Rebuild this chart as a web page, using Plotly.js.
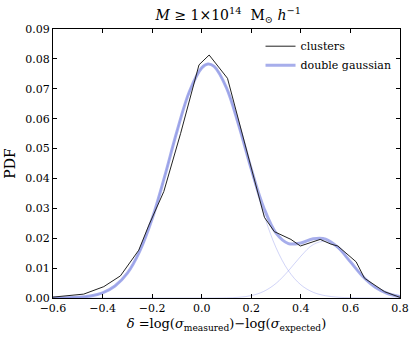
<!DOCTYPE html>
<html>
<head>
<meta charset="utf-8">
<script src="https://cdn.plot.ly/plotly-3.0.1.min.js"></script>
<style>
  html, body { margin: 0; padding: 0; background: #fff; }
  #container { width: 415px; height: 342px; }
</style>
</head>
<body>
<div id="container"></div>
<script>
// histogram of the clusters (black line)
var clusterX = [-0.6, -0.57, -0.476, -0.395, -0.328, -0.254, -0.213, -0.153, -0.085, -0.011, 0.030, 0.104,
                0.232, 0.253, 0.293, 0.360, 0.398, 0.478, 0.522, 0.549, 0.623, 0.657, 0.738, 0.80];
var clusterY = [0.0003, 0.0005, 0.0013, 0.0038, 0.0074, 0.016, 0.0244, 0.0356, 0.0551, 0.078, 0.0813, 0.0735,
                0.0334, 0.027, 0.0222, 0.0196, 0.0174, 0.0196, 0.018, 0.0174, 0.0121, 0.0066, 0.0021, 0.0002];

// fitted curves
var fitX = [-0.6, -0.55, -0.5, -0.45, -0.4, -0.35, -0.3, -0.25, -0.2, -0.15, -0.1, -0.05, 0, 0.025, 0.05,
            0.1, 0.15, 0.2, 0.25, 0.3, 0.35, 0.4, 0.45, 0.5, 0.55, 0.6, 0.65, 0.7, 0.75, 0.8];
var mainComp = [0.00002, 0.00008, 0.00024, 0.00067, 0.0017, 0.0040, 0.0083, 0.0157, 0.0265, 0.0405, 0.0557,
                0.0690, 0.0770, 0.0783, 0.0775, 0.0703, 0.0574, 0.0423, 0.0281, 0.0168, 0.0091, 0.0044,
                0.0019, 0.00076, 0.00027, 0.00009, 0.00003, 0.00001, 0, 0];
var tailComp = [0, 0, 0, 0, 0, 0, 0, 0, 0, 0, 0, 0, 0, 0, 0.00001, 0.00006, 0.00024, 0.0008, 0.0022, 0.0049,
                0.0091, 0.0140, 0.0179, 0.0189, 0.0166, 0.0120, 0.0072, 0.0036, 0.0015, 0.0005];
var totalFit = [0.00002, 0.00008, 0.00024, 0.00067, 0.0017, 0.0040, 0.0083, 0.0157, 0.0265, 0.0405, 0.0557,
                0.0690, 0.0770, 0.0783, 0.0775, 0.0703, 0.0576, 0.0431, 0.0303, 0.0217, 0.0182, 0.0184,
                0.0198, 0.0197, 0.0169, 0.0121, 0.0072, 0.0036, 0.0015, 0.0005];

var serif = 'DejaVu Serif, serif';
var thinBlue = 'rgba(110,120,230,0.4)';

var comp1 = {
    x: fitX, y: mainComp,
    mode: 'lines', type: 'scatter',
    line: {color: thinBlue, width: 0.8, shape: 'spline'},
    showlegend: false, hoverinfo: 'skip'
};
var comp2 = {
    x: fitX, y: tailComp,
    mode: 'lines', type: 'scatter',
    line: {color: thinBlue, width: 0.8, shape: 'spline'},
    showlegend: false, hoverinfo: 'skip'
};
var total = {
    x: fitX, y: totalFit,
    mode: 'lines', type: 'scatter',
    name: 'double gaussian',
    legendrank: 2,
    line: {color: 'rgba(120,130,225,0.65)', width: 3, shape: 'spline'}
};
var clusters = {
    x: clusterX, y: clusterY,
    mode: 'lines', type: 'scatter',
    name: 'clusters',
    legendrank: 1,
    line: {color: '#222', width: 1}
};

var axisCommon = {
    showline: true, linecolor: '#000', linewidth: 1,
    mirror: 'ticks', ticks: 'inside', ticklen: 4, tickcolor: '#000',
    showgrid: false, zeroline: false,
    tickfont: {family: serif, size: 11, color: '#000'}
};

var layout = {
    width: 415,
    height: 342,
    margin: {l: 53, r: 15, t: 29, b: 44},
    paper_bgcolor: '#fff',
    plot_bgcolor: '#fff',
    title: {
        text: '<i>M</i> \u2265 1\u00d710<sup>14</sup>  M<sub>\u2299</sub> <i>h</i><sup>\u22121</sup>',
        font: {family: serif, size: 14, color: '#000'},
        x: 0.55, xanchor: 'center',
        y: 0.955, yref: 'container', yanchor: 'middle'
    },
    xaxis: Object.assign({}, axisCommon, {
        range: [-0.6, 0.8],
        tickmode: 'linear', tick0: -0.6, dtick: 0.2,
        tickformat: '.1f',
        title: {
            text: '<i>\u03b4</i> =log(<i>\u03c3</i><sub>measured</sub>)\u2212log(<i>\u03c3</i><sub>expected</sub>)',
            font: {family: serif, size: 13, color: '#000'},
            standoff: 4
        }
    }),
    yaxis: Object.assign({}, axisCommon, {
        range: [0, 0.09],
        tickmode: 'linear', tick0: 0, dtick: 0.01,
        tickformat: '.2f',
        title: {
            text: 'PDF',
            font: {family: serif, size: 14, color: '#000'},
            standoff: 6
        }
    }),
    showlegend: true,
    legend: {
        x: 0.99, xanchor: 'right',
        y: 0.99, yanchor: 'top',
        bgcolor: 'rgba(0,0,0,0)',
        font: {family: serif, size: 11, color: '#000'},
        tracegroupgap: 0,
        itemwidth: 30
    }
};

Plotly.newPlot('container', [comp1, comp2, total, clusters], layout, {displayModeBar: false, staticPlot: true});
</script>
</body>
</html>
